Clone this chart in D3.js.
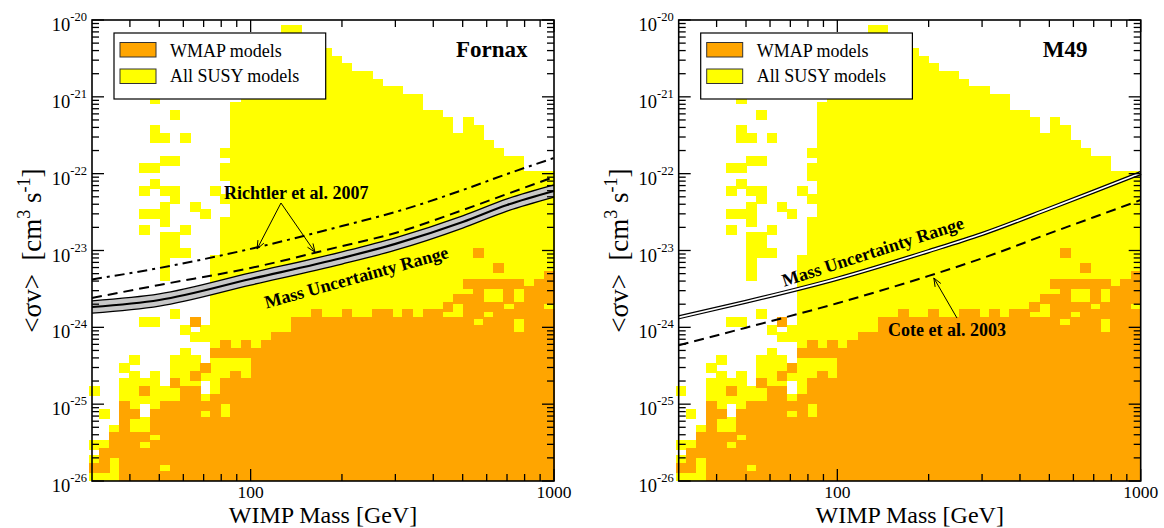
<!DOCTYPE html>
<html>
<head>
<meta charset="utf-8">
<script src="https://cdn.jsdelivr.net/npm/d3@7/dist/d3.min.js"></script>
<style>
  body { margin: 0; background: #fff; }
  svg { font-family: "Liberation Serif", "Times New Roman", serif; }
</style>
</head>
<body>
<svg id="chart" width="1164" height="528"></svg>
<script>
// Axis ranges and ticks
var massDomain = [30, 1000];
var sigmaDomain = [1e-26, 1e-20];
var yExponents = [-20, -21, -22, -23, -24, -25, -26];
var xMajorTicks = [100, 1000];
var xTickLabels = ['100', '1000'];
var xMinorTicks = [40, 50, 60, 70, 80, 90, 200, 300, 400, 500, 600, 700, 800, 900];

// Model grid: columns are 1/30 dex in mass, rows 0.1 dex in <sigma v>
var colsPerDecade = 30;
var rowDex = 0.1;
var rowOrigin = -26.03;

// [column, firstRow, lastRow] runs of occupied model cells
var susyRuns = [
  [44,1,1],[44,3,3],[44,5,5],[44,12,12],
  [45,1,1],[45,5,5],[45,9,9],
  [46,1,7],
  [47,1,13],[47,15,15],
  [48,1,14],[48,16,16],
  [49,1,8],[49,11,13],[49,21,21],[49,33,33],[49,35,35],[49,38,38],[49,41,41],
  [50,1,14],[50,21,21],[50,35,35],[50,39,39],[50,41,41],[50,45,46],[50,50,50],
  [51,1,12],[51,27,32],[51,34,36],[51,38,38],[51,42,42],[51,45,45],
  [52,1,16],[52,22,22],[52,30,32],[52,37,38],[52,42,42],[52,48,48],
  [53,1,17],[53,20,20],[53,30,30],[53,33,33],[53,45,45],
  [54,1,16],[54,19,19],[54,36,36],
  [55,1,11],[55,14,14],[55,19,20],[55,35,35],
  [56,1,29],[56,38,38],
  [57,1,34],[57,37,37],[57,40,41],[57,43,43],
  [58,1,49],[59,1,52],[60,1,55],[61,1,57],[62,1,58],[63,1,59],[64,1,59],
  [65,1,58],[66,1,57],[67,1,56],[68,1,55],[69,1,54],[70,1,53],[71,1,53],
  [72,1,52],[73,1,51],[74,1,51],[75,1,50],[76,1,50],[77,1,48],[78,1,48],
  [79,1,47],[80,1,45],[81,1,47],[82,1,46],[83,1,44],[84,1,43],[85,1,42],
  [86,1,42],[87,1,40],[88,1,40],[89,1,40]
];

var wmapRuns = [
  [44,2,2],
  [45,2,4],
  [46,4,6],
  [47,1,10],
  [48,1,6],[48,9,9],
  [49,1,4],[49,6,6],[49,12,12],
  [50,1,5],[50,7,9],
  [51,1,1],[51,3,10],
  [52,1,10],[52,13,13],
  [53,1,12],
  [54,1,12],[54,14,14],[54,21,21],
  [55,1,8],[55,10,10],[55,15,15],
  [56,1,11],[56,17,17],
  [57,1,8],[57,11,13],[57,17,18],
  [58,1,14],[58,17,17],
  [59,1,13],[59,17,18],
  [60,1,17],
  [61,1,18],[62,1,19],[63,1,19],[64,1,21],[65,1,21],[66,1,22],[67,1,21],
  [68,1,21],[69,1,22],[70,1,21],[71,1,21],[72,1,22],[73,1,22],[74,1,21],
  [75,1,22],[76,1,21],[77,1,22],[78,1,22],
  [79,1,21],[79,23,23],
  [80,1,21],[80,24,24],
  [81,1,24],[81,26,26],
  [82,1,20],[82,22,26],[82,30,30],
  [83,1,21],[83,23,23],[83,26,26],
  [84,1,23],[84,26,26],[84,28,28],
  [85,1,22],[85,24,26],
  [86,1,19],[86,22,23],[86,26,26],
  [87,1,25],
  [88,1,26],
  [89,1,22],[89,24,27]
];

// Limit curves, <sigma v> at these masses
var curveMass = [30, 50, 100, 200, 300, 500, 700, 1000];
var fornaxHigh = [2.21e-24, 2.72e-24, 5.11e-24, 9.59e-24, 1.46e-23, 2.82e-23, 4.69e-23, 7.14e-23];
var fornaxBest = [1.84e-24, 2.27e-24, 4.26e-24, 7.99e-24, 1.22e-23, 2.35e-23, 3.91e-23, 5.95e-23];
var fornaxLow  = [1.53e-24, 1.89e-24, 3.55e-24, 6.66e-24, 1.01e-23, 1.96e-23, 3.26e-23, 4.96e-23];
var richtlerDashDot = [4.2e-24, 5.92e-24, 1.05e-23, 2.08e-23, 3.17e-23, 6.12e-23, 9.9e-23, 1.6e-22];
var richtlerDashed  = [2.41e-24, 3.56e-24, 5.92e-24, 1.14e-23, 1.69e-23, 3.36e-23, 5.43e-23, 9.06e-23];
var m49Best   = [1.35e-24, 2.15e-24, 4.3e-24, 9.8e-24, 1.64e-23, 3.51e-23, 5.87e-23, 1.02e-22];
var coteDashed = [5.83e-25, 9.9e-25, 2.06e-24, 4.67e-24, 7.91e-24, 1.67e-23, 2.71e-23, 4.54e-23];

// Annotation anchors [mass, sigma]
var richtlerLabel = [81.7, 4.68e-23];
var richtlerFrom = [125.9, 4.15e-23];
var richtlerTips = [[105, 1.045e-23], [163, 9.5e-24]];
var coteLabel = [146.9, 7.7e-25];
var coteFrom = [248, 1.32e-24];
var coteTip = [208, 4.39e-24];

/**
 * Layout
 */
var W = 462, H = 461, TOP = 20;
var cellHalf = 5;
var orange = '#ffa500', yellow = '#ffff00';

var svg = d3.select('#chart');

var colMass = function(k) { return Math.pow(10, k / colsPerDecade); };
var rowSigma = function(r) { return Math.pow(10, rowOrigin + rowDex * r); };

var drawCells = function(g, x, y, runs, fill) {
  g.append('g')
    .attr('shape-rendering', 'crispEdges')
    .selectAll('rect')
    .data(runs)
    .enter().append('rect')
    .attr('x', function(d) { return x(colMass(d[0])); })
    .attr('width', function(d) { return x(colMass(d[0] + 1)) - x(colMass(d[0])) + 0.6; })
    .attr('y', function(d) { return y(rowSigma(d[2])) - cellHalf; })
    .attr('height', function(d) { return y(rowSigma(d[1])) - y(rowSigma(d[2])) + 2 * cellHalf; })
    .attr('fill', fill);
};

var drawAxes = function(g, x, y) {
  var ticks = g.append('g').attr('stroke', '#000').attr('stroke-width', 1.3);
  var major = 12, minor = 7;

  yExponents.forEach(function(e) {
    var yy = y(Math.pow(10, e));
    ticks.append('line').attr('x1', 0).attr('x2', major).attr('y1', yy).attr('y2', yy);
    ticks.append('line').attr('x1', W).attr('x2', W - major).attr('y1', yy).attr('y2', yy);
    if (e > -26) {
      for (var k = 2; k <= 9; k++) {
        var ym = y(k * Math.pow(10, e - 1));
        ticks.append('line').attr('x1', 0).attr('x2', minor).attr('y1', ym).attr('y2', ym);
        ticks.append('line').attr('x1', W).attr('x2', W - minor).attr('y1', ym).attr('y2', ym);
      }
    }
  });

  xMajorTicks.forEach(function(v) {
    var xx = x(v);
    ticks.append('line').attr('x1', xx).attr('x2', xx).attr('y1', H).attr('y2', H - major);
    ticks.append('line').attr('x1', xx).attr('x2', xx).attr('y1', 0).attr('y2', major);
  });
  xMinorTicks.forEach(function(v) {
    var xx = x(v);
    ticks.append('line').attr('x1', xx).attr('x2', xx).attr('y1', H).attr('y2', H - minor);
    ticks.append('line').attr('x1', xx).attr('x2', xx).attr('y1', 0).attr('y2', minor);
  });

  g.append('rect')
    .attr('width', W).attr('height', H)
    .attr('fill', 'none').attr('stroke', '#000').attr('stroke-width', 1.6);

  // y tick labels 10^n
  yExponents.forEach(function(e) {
    var t = g.append('text')
      .attr('x', -5).attr('y', y(Math.pow(10, e)) + 11)
      .attr('text-anchor', 'end')
      .attr('font-size', 18.5);
    t.append('tspan').text('10');
    t.append('tspan').attr('font-size', 12.5).attr('dy', -10).text(String(e));
  });

  // x tick labels
  xMajorTicks.forEach(function(v, i) {
    g.append('text')
      .attr('x', x(v)).attr('y', H + 16.5)
      .attr('text-anchor', 'middle')
      .attr('font-size', 17.5)
      .text(xTickLabels[i]);
  });

  // axis titles
  g.append('text')
    .attr('x', W / 2).attr('y', H + 41.5)
    .attr('text-anchor', 'middle')
    .attr('font-size', 24)
    .text('WIMP Mass [GeV]');

  var yt = g.append('text')
    .attr('transform', 'translate(-51,' + (H / 2) + ') rotate(-90)')
    .attr('text-anchor', 'middle')
    .attr('font-size', 27);
  yt.append('tspan').text('<\u03c3v>\u00a0\u00a0[cm');
  yt.append('tspan').attr('font-size', 18).attr('dy', -11).text('3');
  yt.append('tspan').attr('dy', 11).text('\u00a0s');
  yt.append('tspan').attr('font-size', 18).attr('dy', -11).text('-1');
  yt.append('tspan').attr('dy', 11).text(']');
};

var drawLegend = function(g) {
  var lg = g.append('g').attr('transform', 'translate(22,13)');
  lg.append('rect').attr('width', 211.7).attr('height', 66)
    .attr('fill', '#fff').attr('stroke', '#000').attr('stroke-width', 1.2);
  var items = [['WMAP models', orange], ['All SUSY models', yellow]];
  items.forEach(function(it, i) {
    lg.append('rect')
      .attr('x', 6).attr('y', 9.5 + i * 26.5)
      .attr('width', 36).attr('height', 14.5)
      .attr('fill', it[1]).attr('stroke', '#333').attr('stroke-width', 1);
    lg.append('text')
      .attr('x', 56).attr('y', 23.5 + i * 25.5)
      .attr('font-size', 18)
      .text(it[0]);
  });
};

var arrow = function(g, x1, y1, x2, y2) {
  var a = Math.atan2(y2 - y1, x2 - x1), len = 9, spread = 0.38;
  g.append('line').attr('x1', x1).attr('y1', y1).attr('x2', x2).attr('y2', y2)
    .attr('stroke', '#000').attr('stroke-width', 1);
  [-spread, spread].forEach(function(s) {
    g.append('line')
      .attr('x1', x2).attr('y1', y2)
      .attr('x2', x2 - len * Math.cos(a + s)).attr('y2', y2 - len * Math.sin(a + s))
      .attr('stroke', '#000').attr('stroke-width', 1);
  });
};

var curvePath = function(x, y, values) {
  return d3.line()
    .x(function(d, i) { return x(curveMass[i]); })
    .y(function(d) { return y(d); })
    .curve(d3.curveMonotoneX)(values);
};

var drawPanel = function(left, name) {
  var g = svg.append('g').attr('transform', 'translate(' + left + ',' + TOP + ')');
  var x = d3.scaleLog().domain(massDomain).range([0, W]);
  var y = d3.scaleLog().domain(sigmaDomain).range([H, 0]);

  drawCells(g, x, y, susyRuns, yellow);
  drawCells(g, x, y, wmapRuns, orange);

  var lines = g.append('g').attr('fill', 'none');

  if (name === 'Fornax') {
    var band = d3.area()
      .x(function(d, i) { return x(curveMass[i]); })
      .y0(function(d, i) { return y(fornaxLow[i]); })
      .y1(function(d) { return y(d); })
      .curve(d3.curveMonotoneX);
    lines.append('path').attr('d', band(fornaxHigh)).attr('fill', '#c8c8c8');
    lines.append('path').attr('d', curvePath(x, y, fornaxHigh)).attr('stroke', '#000').attr('stroke-width', 1.3);
    lines.append('path').attr('d', curvePath(x, y, fornaxLow)).attr('stroke', '#000').attr('stroke-width', 1.3);
    lines.append('path').attr('d', curvePath(x, y, fornaxBest)).attr('stroke', '#000').attr('stroke-width', 2.2);
    lines.append('path').attr('d', curvePath(x, y, richtlerDashDot))
      .attr('stroke', '#000').attr('stroke-width', 2).attr('stroke-dasharray', '10,5,3,5');
    lines.append('path').attr('d', curvePath(x, y, richtlerDashed))
      .attr('stroke', '#000').attr('stroke-width', 2).attr('stroke-dasharray', '10,6');

    richtlerTips.forEach(function(t) {
      arrow(g, x(richtlerFrom[0]), y(richtlerFrom[1]), x(t[0]), y(t[1]));
    });
    g.append('text')
      .attr('x', x(richtlerLabel[0])).attr('y', y(richtlerLabel[1]))
      .attr('font-size', 18).attr('font-weight', 'bold')
      .text('Richtler et al. 2007');
    g.append('text')
      .attr('transform', 'translate(266,263) rotate(-15.5)')
      .attr('text-anchor', 'middle')
      .attr('font-size', 18).attr('font-weight', 'bold')
      .text('Mass Uncertainty Range');
  } else {
    lines.append('path').attr('d', curvePath(x, y, m49Best)).attr('stroke', '#000').attr('stroke-width', 4.2);
    lines.append('path').attr('d', curvePath(x, y, m49Best)).attr('stroke', '#fff').attr('stroke-width', 1.7);
    lines.append('path').attr('d', curvePath(x, y, coteDashed))
      .attr('stroke', '#000').attr('stroke-width', 2).attr('stroke-dasharray', '10,6');

    arrow(g, x(coteFrom[0]), y(coteFrom[1]), x(coteTip[0]), y(coteTip[1]));
    g.append('text')
      .attr('x', x(coteLabel[0])).attr('y', y(coteLabel[1]))
      .attr('font-size', 18).attr('font-weight', 'bold')
      .text('Cote et al. 2003');
    g.append('text')
      .attr('transform', 'translate(196,237.5) rotate(-18)')
      .attr('text-anchor', 'middle')
      .attr('font-size', 18).attr('font-weight', 'bold')
      .text('Mass Uncertainty Range');
  }

  drawLegend(g);

  g.append('text')
    .attr('x', 364).attr('y', 37)
    .attr('font-size', 23).attr('font-weight', 'bold')
    .text(name);

  drawAxes(g, x, y);
};

drawPanel(92, 'Fornax');
drawPanel(678.7, 'M49');
</script>
</body>
</html>
